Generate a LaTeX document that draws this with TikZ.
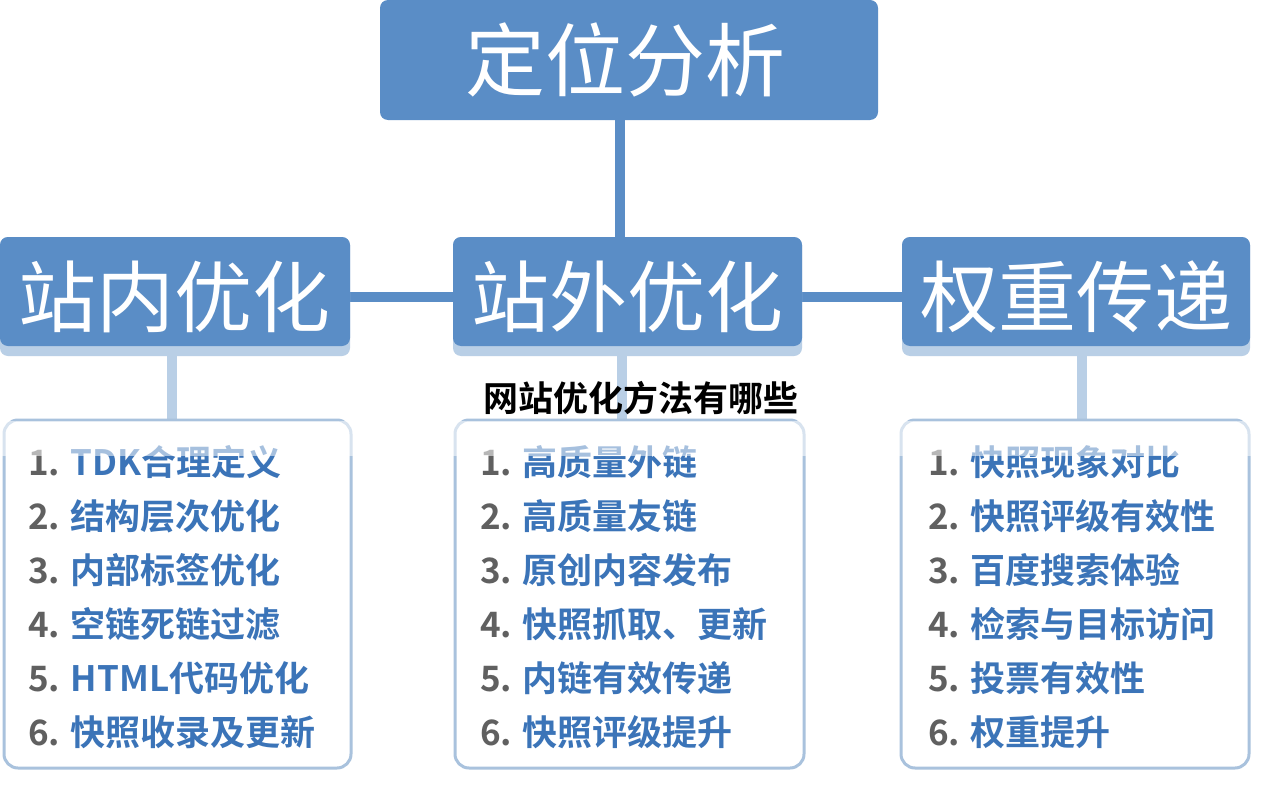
\documentclass[tikz,border=0pt]{standalone}
\usepackage{fontspec}
\newfontfamily\cjk{Noto Sans CJK SC}
\newfontfamily\cjkb{Noto Sans CJK SC Bold}
\definecolor{mb}{HTML}{5A8DC6}
\definecolor{lb}{HTML}{B9CFE6}
\definecolor{bd}{HTML}{A9C2DD}
\definecolor{tb}{HTML}{3B74B8}
\definecolor{gr}{HTML}{606060}
\begin{document}
\begin{tikzpicture}[x=1pt,y=-1pt,
 lst/.style={draw=bd,line width=3pt,rounded corners=14pt,fill=white},
 it/.style={anchor=west,inner sep=0pt,font=\cjkb\fontsize{35}{38}\selectfont},
 ln/.style={line width=10pt,draw=mb},
 ll/.style={line width=10pt,draw=lb}]
\useasboundingbox (0,0) rectangle (1280,800);
\fill[white] (0,0) rectangle (1280,800);
% connectors
\draw[ln] (620,115) -- (620,245);
\draw[ln] (345,297) -- (460,297);
\draw[ln] (795,297) -- (910,297);
\draw[ll] (172,350) -- (172,420);
\draw[ll] (622,350) -- (622,420);
\draw[ll] (1082,350) -- (1082,420);
% headers
\fill[mb,rounded corners=8pt] (380,0) rectangle (878,120);
\node[text=white,font=\cjk\fontsize{80}{82}\selectfont] (top) at (625,60) {定位分析};
\foreach \n/\a/\b/\t in {h1/0/350/站内优化,h2/453/802/站外优化,h3/902/1250/权重传递}{
  \fill[lb,rounded corners=8pt] (\a,237) rectangle (\b,356);
  \fill[mb,rounded corners=8pt] (\a,237) rectangle (\b,346);
  \node[text=white,font=\cjk\fontsize{78}{80}\selectfont] (\n) at ({(\a+\b)/2},297) {\t};
}
% lists
\draw[lst] (4,420) rectangle (351,768);
\draw[lst] (455,420) rectangle (804,768);
\draw[lst] (901,420) rectangle (1249,768);
\foreach \x/\l in {28/{TDK合理定义,结构层次优化,内部标签优化,空链死链过滤,HTML代码优化,快照收录及更新},
                  480/{高质量外链,高质量友链,原创内容发布,快照抓取、更新,内链有效传递,快照评级提升},
                  928/{快照现象对比,快照评级有效性,百度搜索体验,检索与目标访问,投票有效性,权重提升}}{
  \foreach \s [count=\i] in \l {
    \node[it] at (\x,{408+54*\i}) {\textcolor{gr}{\i.} \textcolor{tb}{\s}};
  }
}
\fill[white,opacity=0.55] (0,421) rectangle (1280,456);
\node[font=\cjkb\fontsize{35}{38}\selectfont,text=black] (title) at (641,398) {网站优化方法有哪些};
\end{tikzpicture}
\end{document}
